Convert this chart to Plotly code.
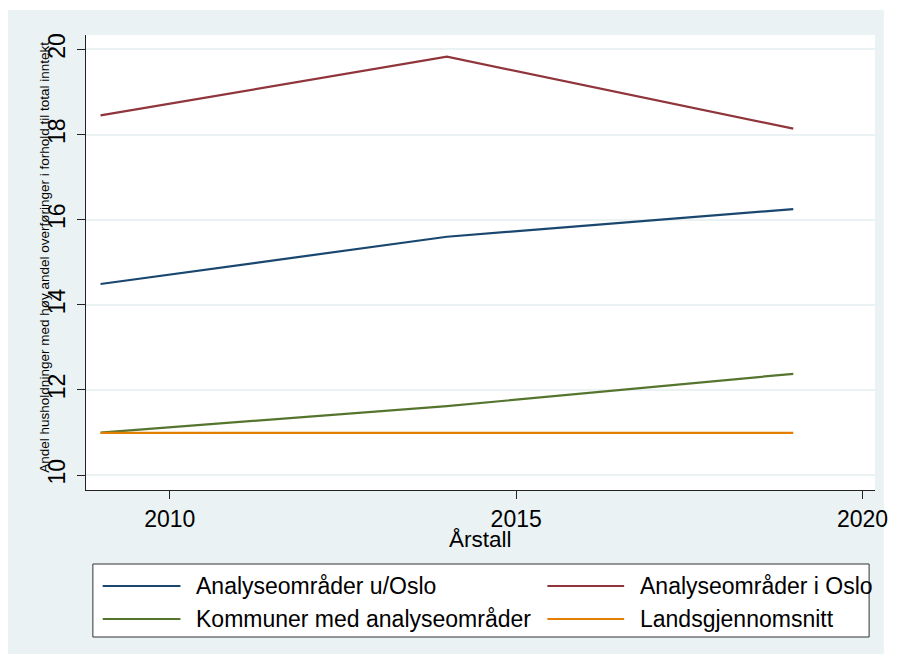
import plotly.graph_objects as go

years = [2009, 2014, 2019]
series_names = ["Analyseområder u/Oslo", "Analyseområder i Oslo",
                "Kommuner med analyseområder", "Landsgjennomsnitt"]
u_oslo = [14.49, 15.6, 16.25]
i_oslo = [18.45, 19.83, 18.14]
kommuner = [11.0, 11.62, 12.38]
lands = [10.99, 10.99, 10.99]
series_values = [u_oslo, i_oslo, kommuner, lands]
colors = ["#1A476F", "#90353B", "#55752F", "#E37E00"]
x_ticks = [2010, 2015, 2020]
y_ticks = [10, 12, 14, 16, 18, 20]

FONT = "Liberation Sans, Arial, sans-serif"
BG = "#EAF2F3"

OFF = 8  # page body margin: figure origin on screen
W, H = 887, 646
# plot area in screen pixels
L, R, T, B = 86, 888, 35, 490
pw, ph = R - L, B - T


def px(x):
    return (x - L) / pw


def py(y):
    return (B - y) / ph


fig = go.Figure()
for name, vals, c in zip(series_names, series_values, colors):
    fig.add_trace(go.Scatter(x=years, y=vals, mode="lines", name=name,
                             line=dict(color=c, width=2.2), showlegend=False))

shapes = [
    dict(type="rect", xref="paper", yref="paper", x0=px(OFF - 2), x1=px(OFF + W + 2),
         y0=py(OFF + H + 2), y1=py(10), fillcolor=BG, line=dict(width=0), layer="below"),
    dict(type="rect", xref="paper", yref="paper", x0=0, x1=1, y0=0, y1=1,
         fillcolor="white", line=dict(width=0), layer="below"),
    dict(type="rect", xref="paper", yref="paper", x0=px(93), x1=px(882),
         y0=py(637), y1=py(564), fillcolor="white",
         line=dict(color="#333333", width=1)),
]
annotations = []
# custom legend (Stata style, 2 columns)
leg_pos = [(103, 182, 196, 586), (555, 633, 647, 586),
           (103, 182, 196, 619), (555, 633, 647, 619)]
for (lx0, lx1, tx, ly), name, c in zip(leg_pos, series_names, colors):
    shapes.append(dict(type="line", xref="paper", yref="paper", x0=px(lx0), x1=px(lx1),
                       y0=py(ly), y1=py(ly), line=dict(color=c, width=2.2)))
    annotations.append(dict(xref="paper", yref="paper", x=px(tx), y=py(ly), text=name,
                            showarrow=False, xanchor="left", yanchor="middle",
                            font=dict(family=FONT, size=23, color="black")))

annotations.append(dict(xref="paper", yref="paper", x=px(43), y=py(257),
                        text="Andel husholdninger med høy andel overføringer i forhold til total inntekt",
                        textangle=-90, showarrow=False, xanchor="center", yanchor="middle",
                        font=dict(family=FONT, size=13.5, color="black")))
annotations.append(dict(xref="paper", yref="paper", x=px(487), y=py(539), text="Årstall",
                        showarrow=False, xanchor="center", yanchor="middle",
                        font=dict(family=FONT, size=22.5, color="black")))

fig.update_layout(
    width=W, height=H,
    margin=dict(l=L - OFF, r=OFF + W - R, t=T - OFF, b=OFF + H - B),
    paper_bgcolor="white", plot_bgcolor="rgba(0,0,0,0)",
    shapes=shapes, annotations=annotations, showlegend=False,
    xaxis=dict(range=[2008.79, 2020.18], tickvals=x_ticks, ticks="outside", ticklen=8,
               tickcolor="#222", showgrid=False, zeroline=False, showline=True,
               linecolor="#222", linewidth=1, ticklabeloverflow="allow",
               tickfont=dict(family=FONT, size=23, color="black")),
    yaxis=dict(range=[9.65, 20.34], tickvals=y_ticks, ticks="outside", ticklen=8,
               tickcolor="#222", showgrid=True, gridcolor=BG, gridwidth=1.5,
               zeroline=False, showline=True, linecolor="#222", linewidth=1,
               ticklabelstandoff=3,
               tickangle=-90, tickfont=dict(family=FONT, size=23, color="black")),
)

fig.write_html("out.html", config={"displayModeBar": False})
